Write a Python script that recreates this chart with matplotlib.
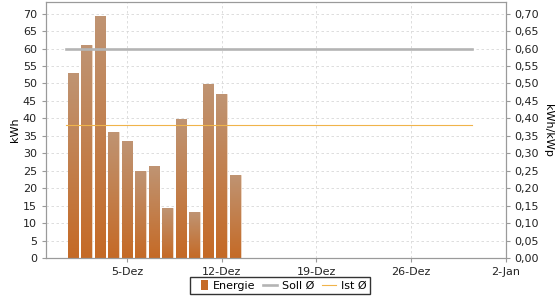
import numpy as np
import matplotlib

matplotlib.use("Agg")
import matplotlib.pyplot as plt
from matplotlib.colors import LinearSegmentedColormap
from matplotlib.patches import Patch
from matplotlib.lines import Line2D
from matplotlib.ticker import FuncFormatter, MultipleLocator

# ---- data -------------------------------------------------------------------
days = np.arange("2016-12-01", "2016-12-14", dtype="datetime64[D]")
energy = [53.1, 61.0, 69.3, 36.1, 33.4, 24.8, 26.3, 14.2, 39.8, 13.1, 49.9, 47.0, 23.8]
soll_avg = 0.60   # kWh/kWp
ist_avg = 0.38    # kWh/kWp
month_span = [np.datetime64("2016-11-30T12:00"), np.datetime64("2016-12-30T12:00")]
x_range = [np.datetime64("2016-11-29"), np.datetime64("2017-01-02")]
tick_days = [np.datetime64("2016-12-05"), np.datetime64("2016-12-12"),
             np.datetime64("2016-12-19"), np.datetime64("2016-12-26"),
             np.datetime64("2017-01-02")]
tick_labels = ["5-Dez", "12-Dez", "19-Dez", "26-Dez", "2-Jan"]

# ---- style ------------------------------------------------------------------
BAR_TOP = "#bf9473"
BAR_BOT = "#c56a26"
SOLL = "#b4b4b4"
IST = "#f0b44a"
FRAME = "#9a9a9a"
GRID = "#d8d8d8"

plt.rcParams.update({
    "font.family": "DejaVu Sans",
    "font.size": 8,
    "axes.edgecolor": FRAME,
    "xtick.color": FRAME,
    "ytick.color": FRAME,
    "xtick.labelcolor": "#222222",
    "ytick.labelcolor": "#222222",
    "xtick.major.size": 3,
    "ytick.major.size": 3,
})

fig = plt.figure(figsize=(5.6, 3.0), dpi=100)
ax = fig.add_axes([0.082, 0.14, 0.8207, 0.853])

bars = ax.bar(days, energy, width=0.79, color=BAR_BOT, edgecolor="#f0dccb",
              linewidth=0.6, zorder=2)

# vertical gradient inside each bar
cmap = LinearSegmentedColormap.from_list("bar", [BAR_BOT, BAR_TOP])
grad = np.linspace(0, 1, 128).reshape(-1, 1)
for b in bars:
    x0 = b.get_x()
    im = ax.imshow(grad, extent=[x0, x0 + b.get_width(), 0, b.get_height()],
                   origin="lower", aspect="auto", cmap=cmap, zorder=2.1)
    im.set_clip_path(b)

ax.set_xlim(x_range)
ax.set_ylim(0, 73.3)
ax.yaxis.set_major_locator(MultipleLocator(5))
ax.set_xticks(tick_days)
ax.set_xticklabels(tick_labels)
ax.grid(True, color=GRID, ls=(0, (3, 3)), lw=0.6)
ax.set_axisbelow(True)
ax.set_ylabel("kWh", labelpad=2)

ax2 = ax.twinx()
ax2.set_ylim(0, 0.733)
ax2.yaxis.set_major_locator(MultipleLocator(0.05))
ax2.yaxis.set_major_formatter(FuncFormatter(lambda v, _: f"{v:.2f}".replace(".", ",")))
ax2.plot(month_span, [soll_avg, soll_avg], color=SOLL, lw=1.9, zorder=3)
ax2.plot(month_span, [ist_avg, ist_avg], color=IST, lw=0.8, zorder=3)
ax2.set_ylabel("kWh/kWp", rotation=270, labelpad=10)

handles = [
    Patch(facecolor=BAR_BOT, edgecolor="none"),
    Line2D([], [], color=SOLL, lw=1.9),
    Line2D([], [], color=IST, lw=0.8),
]
leg = fig.legend(handles, ["Energie", "Soll Ø", "Ist Ø"], loc="lower center",
                 bbox_to_anchor=(0.5, 0.0), ncol=3, frameon=True, fancybox=False,
                 edgecolor="black", fontsize=8, handlelength=1.3, handletextpad=0.4,
                 columnspacing=0.7, borderpad=0.3, handleheight=1.0)
leg.get_frame().set_linewidth(1.0)
p = leg.legend_handles[0]
p.set_x(p.get_x() + p.get_width() - 5)
p.set_width(5)

fig.savefig("out.png", dpi=100)
